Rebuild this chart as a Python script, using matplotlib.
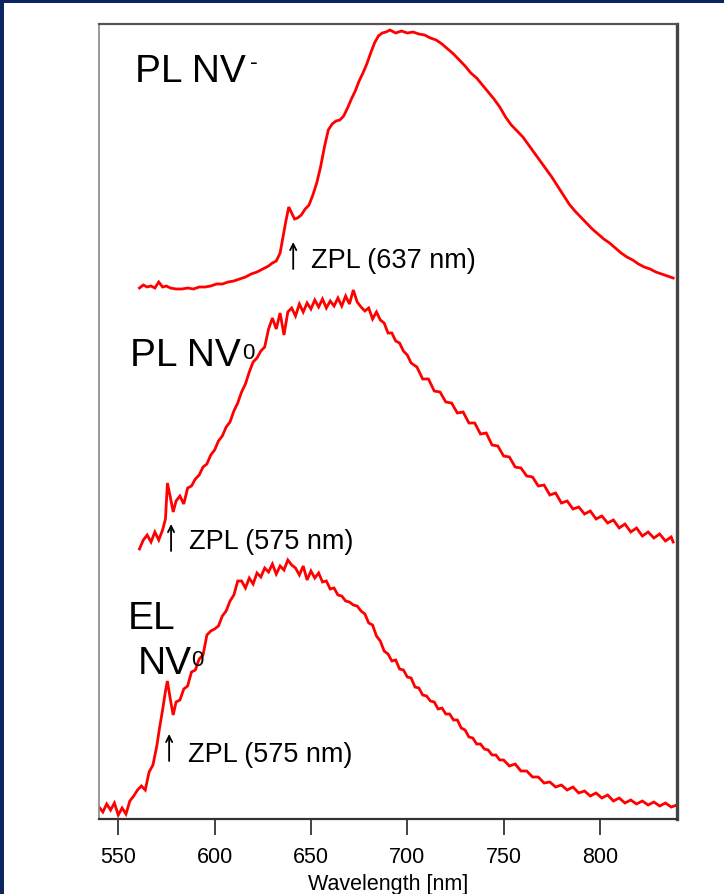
import matplotlib
matplotlib.use("Agg")
import matplotlib.pyplot as plt

plt.rcParams['font.family'] = ['Liberation Sans', 'DejaVu Sans']

# PL spectrum of NV- centre (stacked, arbitrary units)
wl_pl_nvm = [561, 563, 565, 567, 569, 571, 573, 575, 577, 580, 583, 586, 589, 592, 595, 598,
             601, 604, 607, 610, 613, 616, 619, 622, 625, 628, 630, 632, 634, 635.5, 637, 638.5,
             640, 641.5, 643, 645, 647, 649, 651, 653, 655, 657, 659, 661, 663, 665, 667, 669,
             671, 673, 675, 677, 679, 681, 683, 685, 687, 689, 691, 694, 697, 700, 703, 706,
             709, 712, 715, 718, 721, 724, 727, 730, 733, 736, 739, 742, 745, 748, 751, 754,
             757, 760, 763, 766, 769, 772, 775, 778, 781, 784, 787, 790, 793, 796, 799, 802,
             805, 808, 811, 814, 817, 820, 823, 826, 829, 832, 835, 838]
pl_nvm = [531, 534, 532, 533, 531, 537, 532, 533, 531, 530, 530, 531, 530, 532, 532, 533,
          535, 535, 537, 538, 540, 542, 545, 547, 550, 553, 556, 558, 566, 582, 598, 612,
          606, 600, 601, 604, 610, 614, 624, 636, 652, 672, 689, 695, 698, 699, 703, 711,
          720, 728, 738, 746, 755, 766, 776, 783, 786, 787, 789, 786, 788, 786, 787, 785,
          784, 781, 779, 775, 770, 765, 759, 753, 746, 741, 734, 727, 720, 712, 702, 694,
          688, 682, 674, 666, 658, 650, 642, 633, 624, 615, 608, 602, 596, 590, 585, 580,
          576, 571, 566, 562, 559, 555, 552, 550, 547, 545, 543, 541]

# PL spectrum of NV0 centre
wl_pl_nv0 = [561, 563, 565, 567, 569, 571, 573, 574.5, 575.5, 577, 578.5, 580, 582, 584, 586, 588,
             590, 592, 594, 596, 598, 600, 602, 604, 606, 608, 610, 612, 614, 616, 618, 620,
             622, 624, 626, 628, 630, 632, 634, 636, 638, 640, 642, 644, 646, 648, 650, 652,
             654, 656, 658, 660, 662, 664, 666, 668, 670, 672, 674, 676, 678, 680, 682, 684,
             686, 688, 690, 692, 694, 696, 698, 700, 702, 705, 708, 711, 714, 717, 720, 723,
             726, 729, 732, 735, 738, 741, 744, 747, 750, 753, 756, 759, 762, 765, 768, 771,
             774, 777, 780, 783, 786, 789, 792, 795, 798, 801, 804, 807, 810, 813, 816, 819,
             822, 825, 828, 831, 834, 837, 838]
pl_nv0 = [270, 279, 284, 277, 287, 279, 289, 300, 336, 322, 307, 318, 323, 315, 331, 333,
          340, 344, 352, 355, 364, 369, 378, 383, 392, 397, 408, 416, 427, 435, 447, 457,
          461, 468, 472, 490, 501, 490, 506, 484, 507, 511, 503, 515, 507, 516, 510, 519,
          512, 520, 511, 518, 513, 521, 513, 523, 515, 529, 517, 512, 508, 511, 500, 507,
          499, 496, 486, 486, 478, 476, 468, 464, 456, 452, 440, 440, 428, 427, 417, 416,
          406, 407, 396, 396, 385, 386, 374, 373, 363, 362, 352, 351, 343, 342, 333, 334,
          324, 326, 316, 318, 310, 312, 305, 308, 300, 303, 296, 299, 291, 295, 287, 291,
          283, 287, 281, 285, 278, 282, 277]

# EL spectrum of NV0 centre
wl_el_nv0 = [540, 542, 544, 546, 548, 550, 552, 554, 556, 558, 560, 562, 564, 566, 568, 570,
             571.5, 573, 574.5, 575.5, 577, 578.5, 580, 582, 584, 586, 588, 590, 592, 594, 596, 598,
             600, 602, 604, 606, 608, 610, 612, 614, 616, 618, 620, 622, 624, 626, 628, 630,
             632, 634, 636, 638, 640, 642, 644, 646, 648, 650, 652, 654, 656, 658, 660, 662,
             664, 666, 668, 670, 672, 674, 676, 678, 680, 682, 684, 686, 688, 690, 692, 694,
             696, 698, 700, 702, 704, 706, 708, 710, 712, 714, 716, 718, 720, 722, 724, 726,
             728, 730, 732, 734, 736, 738, 740, 742, 744, 746, 748, 750, 753, 756, 759, 762,
             765, 768, 771, 774, 777, 780, 783, 786, 789, 792, 795, 798, 801, 804, 807, 810,
             813, 816, 819, 822, 825, 828, 831, 834, 837, 840]
el_nv0 = [12, 7, 15, 9, 16, 4, 11, 5, 18, 23, 29, 33, 29, 47, 54, 73,
          92, 109, 128, 138, 120, 104, 117, 119, 130, 133, 147, 149, 160, 164, 184, 188,
          190, 193, 203, 208, 218, 224, 238, 238, 231, 241, 235, 246, 242, 251, 247, 255,
          245, 253, 249, 259, 254, 251, 244, 253, 239, 248, 241, 246, 237, 238, 230, 231,
          224, 223, 218, 217, 214, 213, 208, 205, 196, 194, 183, 178, 168, 165, 158, 159,
          150, 149, 142, 141, 132, 131, 124, 123, 118, 117, 110, 111, 105, 105, 99, 99,
          91, 89, 82, 81, 75, 75, 70, 69, 64, 64, 59, 59, 53, 55, 48, 48,
          42, 42, 36, 37, 32, 34, 29, 32, 26, 28, 23, 26, 21, 24, 18, 21,
          16, 19, 15, 18, 14, 17, 13, 16, 12, 14]

xticks = [550, 600, 650, 700, 750, 800]

fig = plt.figure(figsize=(7.24, 8.95), dpi=100)
fig.patch.set_facecolor('white')

# dark slide frame along the top and left edges
fig.add_artist(plt.Rectangle((0, 1 - 4 / 895), 1, 4 / 895, transform=fig.transFigure,
                             color='#0b2560', lw=0, zorder=0))
fig.add_artist(plt.Rectangle((0, 0), 4 / 724, 1, transform=fig.transFigure,
                             color='#0b2560', lw=0, zorder=0))

ax = fig.add_axes([99 / 724, 75 / 895, 578 / 724, 795 / 895])
red = '#ff0000'
for wl, inten in ((wl_pl_nvm, pl_nvm), (wl_pl_nv0, pl_nv0), (wl_el_nv0, el_nv0)):
    ax.plot(wl, inten, color=red, lw=2.0, solid_joinstyle='miter')

ax.set_xlim(540, 840)
ax.set_ylim(0, 795)
ax.set_yticks([])
ax.set_xticks(xticks)
ax.set_xticklabels([str(t) for t in xticks], fontsize=15.5)
ax.tick_params(axis='x', direction='out', length=11.5, width=1.2, color='#222222', pad=8)
ax.set_xlabel('Wavelength [nm]', fontsize=15.5, labelpad=4)

ax.spines['top'].set_color('#555555')
ax.spines['top'].set_linewidth(1.6)
ax.spines['left'].set_color('#888888')
ax.spines['left'].set_linewidth(1.2)
ax.spines['right'].set_color('#444444')
ax.spines['right'].set_linewidth(2.4)
ax.spines['bottom'].set_color('#333333')
ax.spines['bottom'].set_linewidth(1.6)

big = 28
sup = 16
# spectrum labels
ax.text(558.7, 738, 'PL NV', fontsize=big, ha='left', va='baseline')
ax.text(618.5, 751, '-', fontsize=17, ha='left', va='baseline')
ax.text(556.1, 454, 'PL NV', fontsize=big, ha='left', va='baseline')
ax.text(614.2, 461, '0', fontsize=sup, ha='left', va='baseline')
ax.text(555.0, 191, 'EL', fontsize=big, ha='left', va='baseline')
ax.text(560.2, 146, 'NV', fontsize=big, ha='left', va='baseline')
ax.text(588.0, 154, '0', fontsize=sup, ha='left', va='baseline')

# zero-phonon line markers
zpl = 19.5
arrow_style = dict(arrowstyle='->', lw=1.3, color='black', mutation_scale=11,
                   shrinkA=0, shrinkB=0)
ax.annotate('', xy=(640.8, 577), xytext=(640.8, 550), arrowprops=arrow_style)
ax.text(650.2, 552, 'ZPL (637 nm)', fontsize=zpl, ha='left', va='baseline')
ax.annotate('', xy=(577.4, 295), xytext=(577.4, 268), arrowprops=arrow_style)
ax.text(586.8, 271, 'ZPL (575 nm)', fontsize=zpl, ha='left', va='baseline')
ax.annotate('', xy=(576.4, 85), xytext=(576.4, 58), arrowprops=arrow_style)
ax.text(586.3, 58, 'ZPL (575 nm)', fontsize=zpl, ha='left', va='baseline')

fig.savefig('out.png', dpi=100)
